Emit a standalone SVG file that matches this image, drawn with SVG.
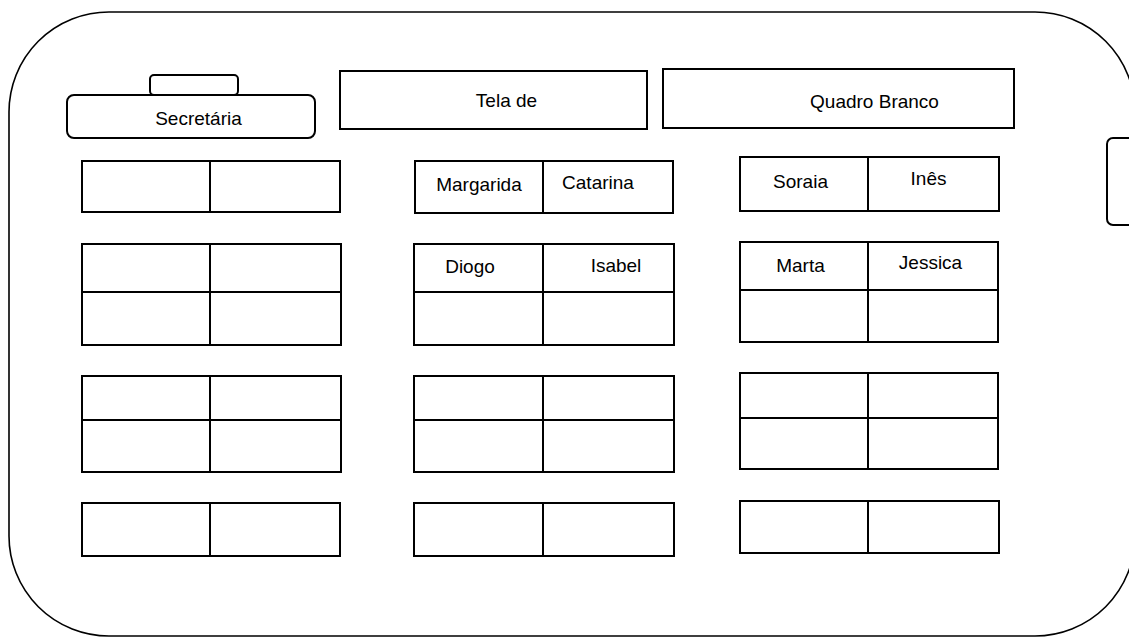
<svg xmlns="http://www.w3.org/2000/svg" width="1129" height="637" viewBox="0 0 1129 637">
<style>
.room{fill:none;stroke:#000;stroke-width:1.6}
.box{fill:#fff;stroke:#000;stroke-width:2}
.ln{stroke:#000;stroke-width:2}
.t{font-family:"Liberation Sans",Arial,sans-serif;font-size:19px;fill:#000;text-anchor:middle}
</style>
<rect width="1129" height="637" fill="#fff"/>
<g id="room"><rect class="room" x="9" y="12" width="1126" height="624" rx="100" ry="100"/></g>
<g id="secretaria">
<rect class="box" x="150" y="75" width="88" height="20" rx="4"/>
<rect class="box" x="67" y="95" width="248" height="43" rx="7"/>
<text class="t" x="198.5" y="125">Secretária</text>
</g>
<g id="tela"><rect class="box" x="340" y="71" width="307" height="58"/><text class="t" x="506.5" y="107">Tela de</text></g>
<g id="quadro"><rect class="box" x="663" y="69" width="351" height="59"/><text class="t" x="874.5" y="108">Quadro Branco</text></g>
<g id="porta"><rect class="box" x="1107" y="138" width="40" height="87" rx="6"/></g>
<g id="connectors"></g>
<g id="desk-l1"><rect class="box" x="82" y="161" width="258" height="51"/><line class="ln" x1="210" y1="161" x2="210" y2="212"/></g>
<g id="desk-l2"><rect class="box" x="82" y="244" width="259" height="101"/><line class="ln" x1="210" y1="244" x2="210" y2="345"/><line class="ln" x1="82" y1="292" x2="341" y2="292"/></g>
<g id="desk-l3"><rect class="box" x="82" y="376" width="259" height="96"/><line class="ln" x1="210" y1="376" x2="210" y2="472"/><line class="ln" x1="82" y1="420" x2="341" y2="420"/></g>
<g id="desk-l4"><rect class="box" x="82" y="503" width="258" height="53"/><line class="ln" x1="210" y1="503" x2="210" y2="556"/></g>
<g id="desk-m1"><rect class="box" x="415" y="161" width="258" height="52"/><line class="ln" x1="543" y1="161" x2="543" y2="213"/><text class="t" x="479" y="191">Margarida</text><text class="t" x="598" y="189">Catarina</text></g>
<g id="desk-m2"><rect class="box" x="414" y="244" width="260" height="101"/><line class="ln" x1="543" y1="244" x2="543" y2="345"/><line class="ln" x1="414" y1="292" x2="674" y2="292"/><text class="t" x="470" y="273">Diogo</text><text class="t" x="616" y="272">Isabel</text></g>
<g id="desk-m3"><rect class="box" x="414" y="376" width="260" height="96"/><line class="ln" x1="543" y1="376" x2="543" y2="472"/><line class="ln" x1="414" y1="420" x2="674" y2="420"/></g>
<g id="desk-m4"><rect class="box" x="414" y="503" width="260" height="53"/><line class="ln" x1="543" y1="503" x2="543" y2="556"/></g>
<g id="desk-r1"><rect class="box" x="740" y="157" width="259" height="54"/><line class="ln" x1="868" y1="157" x2="868" y2="211"/><text class="t" x="800.5" y="188">Soraia</text><text class="t" x="928.5" y="185">Inês</text></g>
<g id="desk-r2"><rect class="box" x="740" y="242" width="258" height="100"/><line class="ln" x1="868" y1="242" x2="868" y2="342"/><line class="ln" x1="740" y1="290" x2="998" y2="290"/><text class="t" x="800.5" y="272">Marta</text><text class="t" x="930.5" y="269">Jessica</text></g>
<g id="desk-r3"><rect class="box" x="740" y="373" width="258" height="96"/><line class="ln" x1="868" y1="373" x2="868" y2="469"/><line class="ln" x1="740" y1="418" x2="998" y2="418"/></g>
<g id="desk-r4"><rect class="box" x="740" y="501" width="259" height="52"/><line class="ln" x1="868" y1="501" x2="868" y2="553"/></g>
</svg>
